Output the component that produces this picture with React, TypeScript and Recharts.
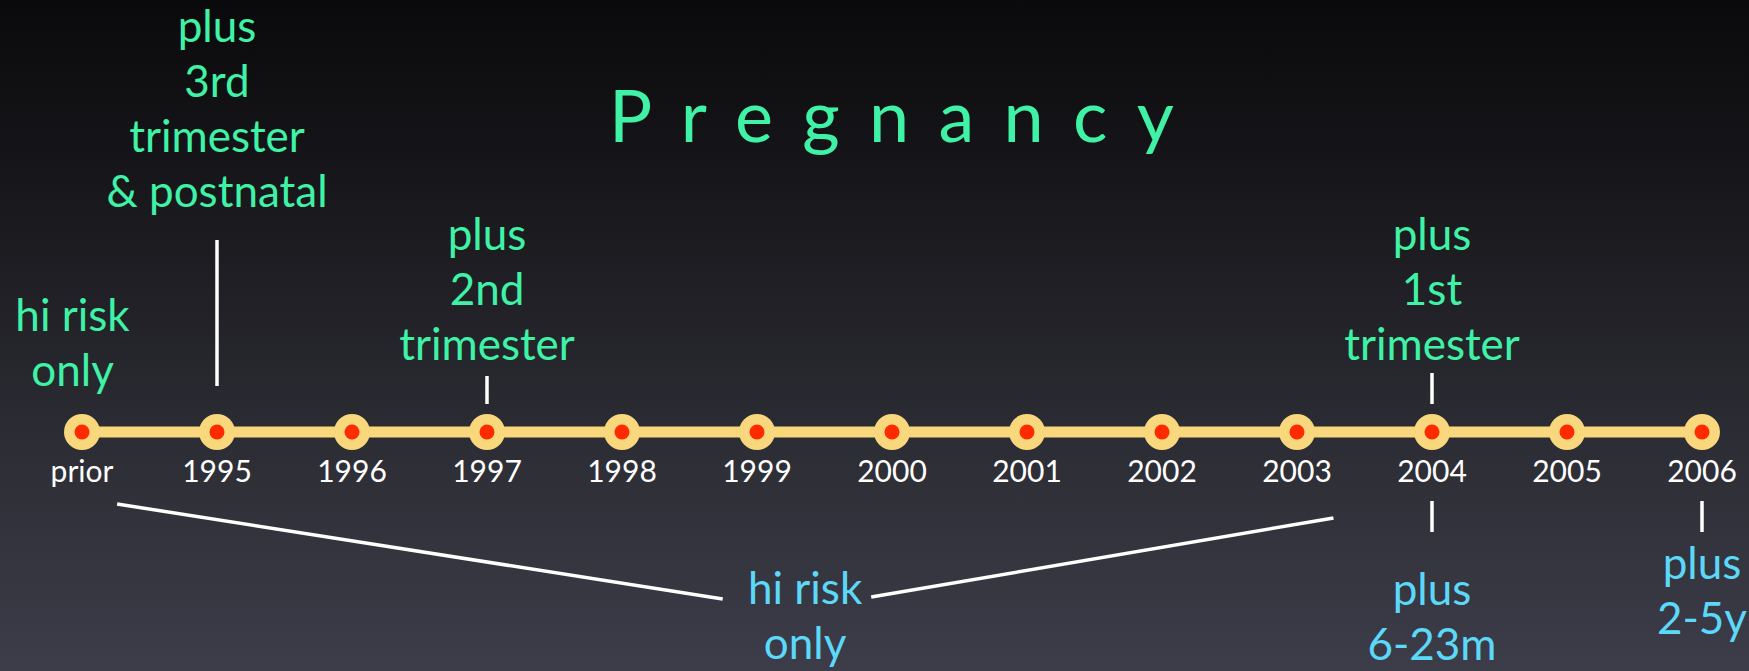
import { LineChart, Line, XAxis, YAxis, ReferenceLine, ReferenceDot, LabelList } from "recharts";

if (typeof document !== "undefined") document.body.style.margin = "0";

const W = 1749;
const H = 671;

const GREEN = "#3ff2a6";
const CYAN = "#5cd8f8";
const GOLD = "#f9d77c";
const RED = "#ff2a00";
const FONT = "Lato, 'Open Sans', sans-serif";

// timeline categories
const years = ["prior", "1995", "1996", "1997", "1998", "1999", "2000", "2001", "2002", "2003", "2004", "2005", "2006"];

// green notes above the line (what was added that year)
const topNotes = [
  { year: "prior", lines: ["hi risk", "only"] },
  { year: "1995", lines: ["plus", "3rd", "trimester", "& postnatal"] },
  { year: "1997", lines: ["plus", "2nd", "trimester"] },
  { year: "2004", lines: ["plus", "1st", "trimester"] },
];

// cyan notes below the line
const bottomNotes = [
  { year: "2004", lines: ["plus", "6-23m"] },
  { year: "2006", lines: ["plus", "2-5y"] },
];

// one note spanning prior..2003
const spanNote = { from: "prior", to: "2003", lines: ["hi risk", "only"] };

const timeline = years.map((year, i) => ({ i, year, v: 0 }));
const idx = (y: string) => years.indexOf(y);

// layout (y axis is px above the timeline)
const TOP_LEVEL: Record<string, number> = { prior: 101, "1995": 390, "1997": 182, "2004": 182 };
const TOP_NUDGE: Record<string, number> = { prior: -0.07 };
const TOP_LINK: Record<string, [number, number]> = { "1995": [192, 46], "1997": [56, 28], "2004": [59, 28] };
const BOTTOM_LEVEL: Record<string, number> = { "2004": -173, "2006": -147 };
const BOTTOM_LINK: [number, number] = [-69, -100];
const SPAN_AT = 5.356;
const SPAN_LEVEL = -172;
const LINE_GAP = 55;

function NoteText({ cx, cy, lines, color }: { cx?: number; cy?: number; lines: string[]; color: string }) {
  if (cx == null || cy == null) return null;
  return (
    <text x={cx} y={cy} textAnchor="middle" fill={color} fontSize={44} fontFamily={FONT}>
      {lines.map((l, k) => (
        <tspan key={k} x={cx} dy={k === 0 ? 0 : LINE_GAP}>
          {l}
        </tspan>
      ))}
    </text>
  );
}

function Stop(props: any) {
  const { cx, cy } = props;
  if (cx == null || cy == null) return null;
  return (
    <g>
      <circle cx={cx} cy={cy} r={18} fill={GOLD} />
      <circle cx={cx} cy={cy} r={7.5} fill={RED} />
    </g>
  );
}

function YearLabel(props: any) {
  const { x, y, value } = props;
  return (
    <text x={x} y={y + 50} textAnchor="middle" fill="#ffffff" fontSize={30} fontFamily={FONT}>
      {value}
    </text>
  );
}

export default function App() {
  const link = { stroke: "#ffffff", strokeWidth: 3.5, ifOverflow: "visible" as const };
  return (
    <div
      style={{
        position: "relative",
        width: W,
        height: H,
        background: "linear-gradient(to bottom, #0a0a0c 0%, #1b1b20 35%, #2c2c34 65%, #3d3d4a 100%)",
        overflow: "hidden",
      }}
    >
      <div
        style={{
          position: "absolute",
          left: 609,
          top: 78,
          fontFamily: FONT,
          fontSize: 72,
          lineHeight: 1,
          letterSpacing: 29.3,
          color: GREEN,
          whiteSpace: "nowrap",
        }}
      >
        Pregnancy
      </div>
      <LineChart width={W} height={H} data={timeline} margin={{ top: 0, right: 0, bottom: 0, left: 0 }}>
        <XAxis dataKey="i" type="number" hide domain={[-82 / 135, (W - 82) / 135]} allowDataOverflow />
        <YAxis type="number" hide domain={[-239, 432]} allowDataOverflow />

        {Object.entries(TOP_LINK).map(([y, [a, b]]) => (
          <ReferenceLine key={"t" + y} segment={[{ x: idx(y), y: a }, { x: idx(y), y: b }]} {...link} />
        ))}
        {bottomNotes.map((n) => (
          <ReferenceLine
            key={"b" + n.year}
            segment={[{ x: idx(n.year), y: BOTTOM_LINK[0] }, { x: idx(n.year), y: BOTTOM_LINK[1] }]}
            {...link}
          />
        ))}
        <ReferenceLine segment={[{ x: idx(spanNote.from) + 0.26, y: -72 }, { x: SPAN_AT - 0.61, y: -167 }]} {...link} />
        <ReferenceLine segment={[{ x: SPAN_AT + 0.49, y: -165 }, { x: idx(spanNote.to) + 0.27, y: -86 }]} {...link} />

        <Line
          dataKey="v"
          stroke={GOLD}
          strokeWidth={11}
          dot={<Stop />}
          activeDot={false}
          isAnimationActive={false}
        >
          <LabelList dataKey="year" content={<YearLabel />} />
        </Line>

        {topNotes.map((n) => (
          <ReferenceDot
            key={"tn" + n.year}
            x={idx(n.year) + (TOP_NUDGE[n.year] ?? 0)}
            y={TOP_LEVEL[n.year]}
            ifOverflow="visible"
            shape={(p: any) => <NoteText cx={p.cx} cy={p.cy} lines={n.lines} color={GREEN} />}
          />
        ))}
        {bottomNotes.map((n) => (
          <ReferenceDot
            key={"bn" + n.year}
            x={idx(n.year)}
            y={BOTTOM_LEVEL[n.year]}
            ifOverflow="visible"
            shape={(p: any) => <NoteText cx={p.cx} cy={p.cy} lines={n.lines} color={CYAN} />}
          />
        ))}
        <ReferenceDot
          x={SPAN_AT}
          y={SPAN_LEVEL}
          ifOverflow="visible"
          shape={(p: any) => <NoteText cx={p.cx} cy={p.cy} lines={spanNote.lines} color={CYAN} />}
        />
      </LineChart>
    </div>
  );
}
